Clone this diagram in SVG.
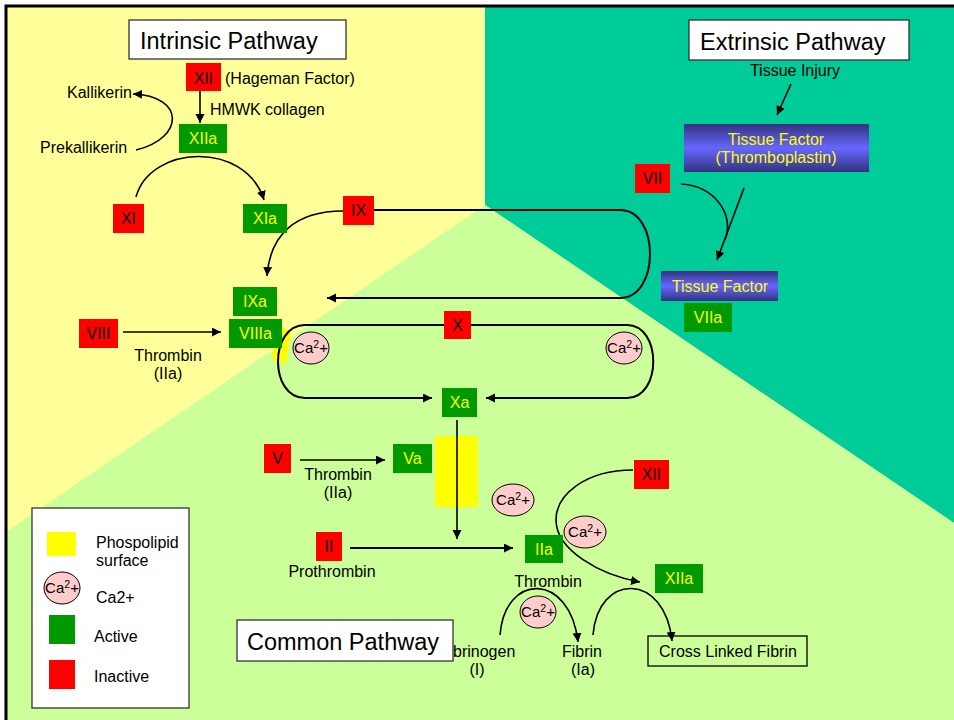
<svg xmlns="http://www.w3.org/2000/svg" width="954" height="720" viewBox="0 0 954 720">
<defs>
<linearGradient id="tf" x1="0" y1="0" x2="0" y2="1">
<stop offset="0" stop-color="#333380"/>
<stop offset="0.5" stop-color="#6666ff"/>
<stop offset="1" stop-color="#333380"/>
</linearGradient>
<marker id="ah" markerUnits="userSpaceOnUse" markerWidth="10" markerHeight="10" refX="9" refY="4.5" orient="auto">
<path d="M0,0 L9,4.5 L0,9 z" fill="#000"/>
</marker>
<style>
text{font-family:"Liberation Sans",Arial,sans-serif;font-size:16px;fill:#000}
.title{font-size:23.5px}
.c{text-anchor:middle}
.y{fill:#ffff00}
.red{fill:#ff0000}
.grn{fill:#009900}
.ln{fill:none;stroke:#000;stroke-width:1.6}
.lp{fill:none;stroke:#000;stroke-width:2}
.ar{marker-end:url(#ah)}
.ca{fill:#ffcccc;stroke:#000;stroke-width:1}
.cat{font-size:15px;text-anchor:middle}
.box{fill:#fff;stroke:#333;stroke-width:1.3}
</style>
</defs>
<rect width="954" height="720" fill="#fff"/>
<g id="background">
<rect x="6" y="6" width="960" height="730" fill="#ffff99"/>
<polygon points="485,6 960,6 960,527 485,205" fill="#00cc99"/>
<polygon points="485,205 960,527 960,730 6,730 6,532" fill="#ccff99"/>
<rect x="6" y="6" width="960" height="730" fill="none" stroke="#000" stroke-width="3"/>
<polygon points="276,326 291,331 286,364 272,360" fill="#ffff00"/>
<rect x="435" y="436" width="43" height="71" fill="#ffff00"/>
</g>
<g id="connectors">
<path class="ln ar" d="M200,91 V123"/>
<path class="ln ar" d="M136,150 C185,138 185,96 133,94"/>
<path class="ln ar" d="M136,197 C150,145 245,140 264,200"/>
<path class="ln ar" d="M343,211 C295,211 270,235 267,276"/>
<path class="lp ar" d="M374,210 H620 C660,210 660,298 620,298 H327"/>
<path class="ln ar" d="M123,332 H221"/>
<path class="lp ar" d="M444,325 H305 C269,325 269,398 305,398 H432"/>
<path class="lp ar" d="M471,325 H627 C662,325 662,398 627,398 H486"/>
<path class="ln ar" d="M457,420 V539"/>
<path class="ln ar" d="M300,460 H385"/>
<path class="lp ar" d="M350,548 H513"/>
<path class="ln ar" d="M633,470 C585,470 556,495 556,520 C556,550 600,575 640,582"/>
<path class="ln ar" d="M500,635 C505,572 570,572 578,642"/>
<path class="ln ar" d="M593,635 C598,572 665,572 672,641"/>
<path class="ln ar" d="M791,84 L777,115"/>
<path class="ln" d="M681,184 C715,186 735,215 725,240"/>
<path class="ln ar" d="M744,188 L717,260"/>
</g>
<g id="intrinsic-title"><rect class="box" x="129" y="20" width="217" height="39"/><text class="title" x="140" y="49">Intrinsic Pathway</text></g>
<g id="extrinsic-title"><rect class="box" x="689" y="20" width="220" height="40"/><text class="title" x="700" y="50">Extrinsic Pathway</text></g>
<g id="labels">
<text x="67" y="98">Kallikerin</text>
<text x="40" y="153">Prekallikerin</text>
<text x="225" y="84">(Hageman Factor)</text>
<text x="210" y="115">HMWK collagen</text>
<text class="c" x="168" y="361">Thrombin</text>
<text class="c" x="168" y="379">(IIa)</text>
<text class="c" x="338" y="480">Thrombin</text>
<text class="c" x="338" y="498">(IIa)</text>
<text class="c" x="332" y="577">Prothrombin</text>
<text class="c" x="548" y="587">Thrombin</text>
<text x="453" y="657">brinogen</text>
<text class="c" x="477" y="675">(I)</text>
<text class="c" x="582" y="657">Fibrin</text>
<text class="c" x="583" y="675">(Ia)</text>
<text class="c" x="795" y="76">Tissue Injury</text>
</g>
<g id="XII"><rect class="red" x="186" y="63" width="35" height="28"/><text class="c" x="203.5" y="84">XII</text></g>
<g id="XIIa"><rect class="grn" x="179" y="124" width="48" height="29"/><text class="c y" x="203" y="144">XIIa</text></g>
<g id="XI"><rect class="red" x="113" y="204" width="31" height="29"/><text class="c" x="128.5" y="224">XI</text></g>
<g id="XIa"><rect class="grn" x="243" y="204" width="44" height="29"/><text class="c y" x="265" y="224">XIa</text></g>
<g id="IX"><rect class="red" x="343" y="196" width="31" height="29"/><text class="c" x="358.5" y="216">IX</text></g>
<g id="IXa"><rect class="grn" x="233" y="287" width="44" height="29"/><text class="c y" x="255" y="307">IXa</text></g>
<g id="VIIIa"><rect class="grn" x="229" y="319" width="53" height="29"/><text class="c y" x="255.5" y="339">VIIIa</text></g>
<g id="VIII"><rect class="red" x="79" y="319" width="39" height="29"/><text class="c" x="98.5" y="339">VIII</text></g>
<g id="X"><rect class="red" x="444" y="311" width="27" height="28"/><text class="c" x="457.5" y="331">X</text></g>
<g id="Xa"><rect class="grn" x="442" y="388" width="35" height="29"/><text class="c y" x="459.5" y="408">Xa</text></g>
<g id="V"><rect class="red" x="264" y="444" width="27" height="29"/><text class="c" x="277.5" y="464">V</text></g>
<g id="Va"><rect class="grn" x="393" y="444" width="39" height="29"/><text class="c y" x="412.5" y="464">Va</text></g>
<g id="II"><rect class="red" x="316" y="532" width="26" height="29"/><text class="c" x="329" y="552">II</text></g>
<g id="IIa"><rect class="grn" x="525" y="535" width="38" height="28"/><text class="c y" x="544" y="555">IIa</text></g>
<g id="XII-b"><rect class="red" x="634" y="460" width="35" height="29"/><text class="c" x="651.5" y="480">XII</text></g>
<g id="XIIa-b"><rect class="grn" x="655" y="564" width="48" height="29"/><text class="c y" x="679" y="584">XIIa</text></g>
<g id="VII"><rect class="red" x="635" y="164" width="35" height="29"/><text class="c" x="652.5" y="184">VII</text></g>
<g id="VIIa"><rect class="grn" x="684" y="303" width="48" height="29"/><text class="c y" x="708" y="323">VIIa</text></g>
<g id="tissue-factor"><rect x="684" y="124" width="185" height="48" fill="url(#tf)"/><text class="c y" x="776" y="145">Tissue Factor</text><text class="c y" x="776" y="163">(Thromboplastin)</text></g>
<g id="tissue-factor-2"><rect x="661" y="271" width="117" height="30" fill="url(#tf)"/><text class="c y" x="720" y="292">Tissue Factor</text></g>
<g id="cross-linked-fibrin"><rect x="648" y="636" width="159" height="30" fill="none" stroke="#000" stroke-width="1.3"/><text x="659" y="657">Cross Linked Fibrin</text></g>
<g id="ca1"><ellipse class="ca" cx="311" cy="348" rx="18" ry="16"/><text class="cat" x="311" y="353">Ca<tspan font-size="10.5" dy="-5">2</tspan><tspan dy="5">+</tspan></text></g>
<g id="ca2"><ellipse class="ca" cx="624" cy="348" rx="18" ry="16"/><text class="cat" x="624" y="353">Ca<tspan font-size="10.5" dy="-5">2</tspan><tspan dy="5">+</tspan></text></g>
<g id="ca3"><ellipse class="ca" cx="513" cy="500" rx="21" ry="16"/><text class="cat" x="513" y="505">Ca<tspan font-size="10.5" dy="-5">2</tspan><tspan dy="5">+</tspan></text></g>
<g id="ca4"><ellipse class="ca" cx="585" cy="532" rx="21" ry="16"/><text class="cat" x="585" y="537">Ca<tspan font-size="10.5" dy="-5">2</tspan><tspan dy="5">+</tspan></text></g>
<g id="ca5"><ellipse class="ca" cx="538" cy="612" rx="18" ry="16"/><text class="cat" x="538" y="617">Ca<tspan font-size="10.5" dy="-5">2</tspan><tspan dy="5">+</tspan></text></g>
<g id="common-title"><rect class="box" x="237" y="620" width="216" height="41"/><text class="title" x="247" y="650">Common Pathway</text></g>
<g id="legend">
<rect x="32" y="508" width="157" height="200" fill="#fff" stroke="#333" stroke-width="1.3"/>
<rect x="47" y="532" width="29" height="24" fill="#ffff00"/>
<text x="96" y="548">Phospolipid</text>
<text x="96" y="566">surface</text>
<ellipse class="ca" cx="62" cy="588" rx="18" ry="16"/>
<text class="cat" x="62" y="593">Ca<tspan font-size="10.5" dy="-5">2</tspan><tspan dy="5">+</tspan></text>
<text x="96" y="603">Ca2+</text>
<rect class="grn" x="49" y="615" width="26" height="29"/>
<text x="94" y="642">Active</text>
<rect class="red" x="49" y="660" width="26" height="29"/>
<text x="94" y="682">Inactive</text>
</g>
</svg>
